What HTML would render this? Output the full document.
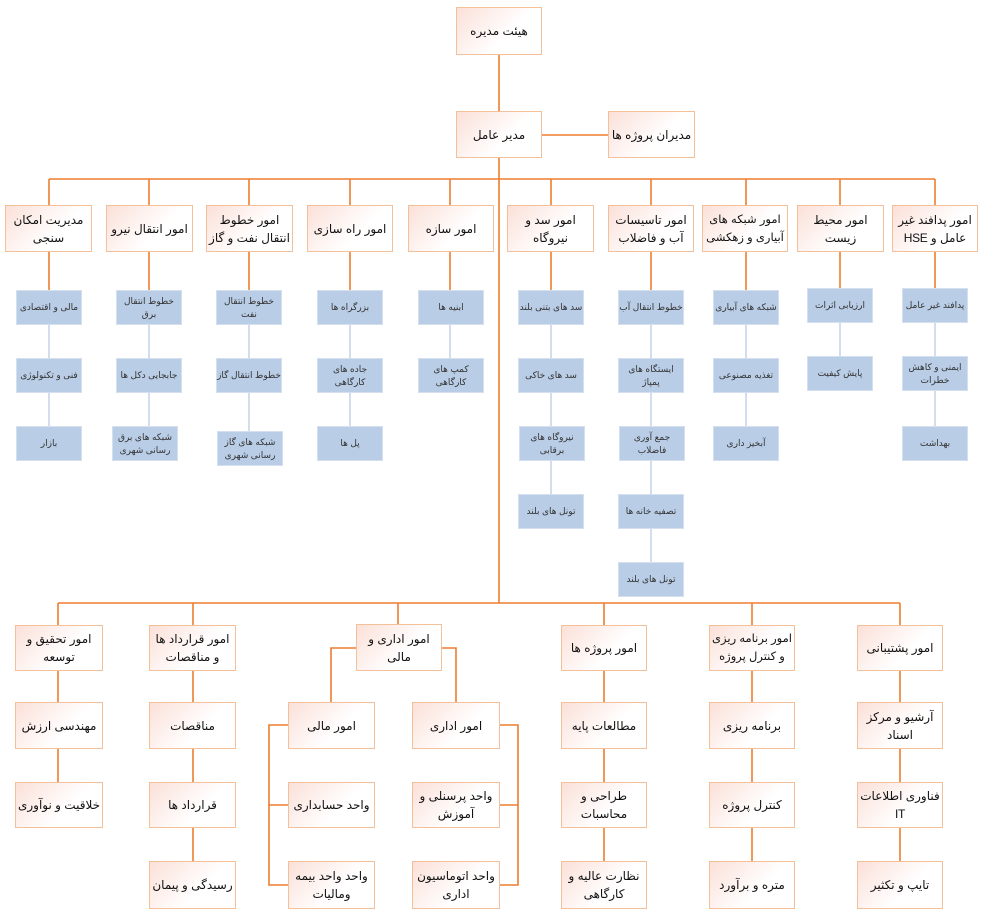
<!DOCTYPE html>
<html><head><meta charset="utf-8"><style>
body{margin:0;width:982px;height:918px;background:#fff;position:relative;overflow:hidden;font-family:"Liberation Sans","Noto Sans CJK SC","DejaVu Sans",sans-serif;}
svg{position:absolute;left:0;top:0}
.o{position:absolute;box-sizing:border-box;border:1px solid #f4c09a;background:linear-gradient(135deg,#fbe0d8 0%,#fff 60%,#fff 100%);display:flex;align-items:center;justify-content:center;text-align:center;direction:rtl;font-size:12px;line-height:18px;color:#111;letter-spacing:-0.3px;padding:0 1px;}
.b{position:absolute;box-sizing:border-box;border:1px solid #d5e0ee;background:#b9cde6;display:flex;align-items:center;justify-content:center;text-align:center;direction:rtl;font-size:9px;line-height:13px;color:#333;width:66px;height:35px;}
</style></head><body>
<svg width="982" height="918">
<g stroke="#ed7d31" stroke-width="1.6" fill="none">
<line x1="499" y1="55" x2="499" y2="603"/>
<line x1="542" y1="135" x2="608" y2="135"/>
<line x1="49" y1="179" x2="935" y2="179"/>
<line x1="49" y1="179" x2="49" y2="290"/><line x1="149" y1="179" x2="149" y2="290"/><line x1="249" y1="179" x2="249" y2="290"/><line x1="350" y1="179" x2="350" y2="290"/><line x1="450" y1="179" x2="450" y2="290"/><line x1="551" y1="179" x2="551" y2="290"/><line x1="651" y1="179" x2="651" y2="290"/><line x1="746" y1="179" x2="746" y2="290"/><line x1="840" y1="179" x2="840" y2="288"/><line x1="935" y1="179" x2="935" y2="288"/>
<line x1="58" y1="603" x2="900" y2="603"/>
<line x1="58" y1="603" x2="58" y2="782"/><line x1="193" y1="603" x2="193" y2="861"/><line x1="398" y1="603" x2="398" y2="625"/><line x1="604" y1="603" x2="604" y2="861"/><line x1="752" y1="603" x2="752" y2="861"/><line x1="900" y1="603" x2="900" y2="861"/>
<polyline points="356,648 331,648 331,702"/><polyline points="442,648 456,648 456,702"/>
<polyline points="288,725 269,725 269,885 288,885"/><line x1="269" y1="805" x2="288" y2="805"/>
<polyline points="500,725 518,725 518,885 500,885"/><line x1="518" y1="805" x2="500" y2="805"/>
</g>
<g stroke="#c6d6ea" stroke-width="1.6">
<line x1="49" y1="325" x2="49" y2="426"/><line x1="149" y1="325" x2="149" y2="426"/><line x1="249" y1="325" x2="249" y2="431"/><line x1="350" y1="325" x2="350" y2="426"/><line x1="450" y1="325" x2="450" y2="358"/><line x1="551" y1="325" x2="551" y2="494"/><line x1="651" y1="325" x2="651" y2="562"/><line x1="746" y1="325" x2="746" y2="426"/><line x1="840" y1="323" x2="840" y2="356"/><line x1="935" y1="323" x2="935" y2="426"/>
</g>
</svg>
<div class="o" style="left:456px;top:7px;width:86px;height:48px">هیئت مدیره</div>
<div class="o" style="left:456px;top:111px;width:86px;height:47px">مدیر عامل</div>
<div class="o" style="left:608px;top:111px;width:87px;height:47px">مدیران پروژه ها</div>

<div class="o" style="left:5px;top:205px;width:87px;height:47px">مدیریت امکان سنجی</div>
<div class="o" style="left:106px;top:205px;width:87px;height:47px">امور انتقال نیرو</div>
<div class="o" style="left:206px;top:205px;width:87px;height:47px">امور خطوط انتقال نفت و گاز</div>
<div class="o" style="left:307px;top:205px;width:86px;height:47px">امور راه سازی</div>
<div class="o" style="left:408px;top:205px;width:86px;height:47px">امور سازه</div>
<div class="o" style="left:507px;top:205px;width:87px;height:47px">امور سد و نیروگاه</div>
<div class="o" style="left:608px;top:205px;width:86px;height:47px">امور تاسیسات آب و فاضلاب</div>
<div class="o" style="left:702px;top:205px;width:86px;height:47px;font-size:11.5px">امور شبکه های آبیاری و زهکشی</div>
<div class="o" style="left:797px;top:205px;width:87px;height:47px">امور محیط زیست</div>
<div class="o" style="left:892px;top:205px;width:86px;height:47px">امور پدافند غیر عامل و HSE</div>

<div class="b" style="left:16px;top:290px">مالی و اقتصادی</div>
<div class="b" style="left:16px;top:358px">فنی و تکنولوژی</div>
<div class="b" style="left:16px;top:426px">بازار</div>
<div class="b" style="left:116px;top:290px">خطوط انتقال برق</div>
<div class="b" style="left:116px;top:358px">جابجایی دکل ها</div>
<div class="b" style="left:112px;top:426px">شبکه های برق رسانی شهری</div>
<div class="b" style="left:216px;top:290px">خطوط انتقال نفت</div>
<div class="b" style="left:216px;top:358px">خطوط انتقال گاز</div>
<div class="b" style="left:217px;top:431px">شبکه های گاز رسانی شهری</div>
<div class="b" style="left:317px;top:290px">بزرگراه ها</div>
<div class="b" style="left:317px;top:358px">جاده های کارگاهی</div>
<div class="b" style="left:317px;top:426px">پل ها</div>
<div class="b" style="left:418px;top:290px">ابنیه ها</div>
<div class="b" style="left:418px;top:358px">کمپ های کارگاهی</div>
<div class="b" style="left:518px;top:290px">سد های بتنی بلند</div>
<div class="b" style="left:518px;top:358px">سد های خاکی</div>
<div class="b" style="left:519px;top:426px">نیروگاه های برقابی</div>
<div class="b" style="left:518px;top:494px">تونل های بلند</div>
<div class="b" style="left:618px;top:290px">خطوط انتقال آب</div>
<div class="b" style="left:618px;top:358px">ایستگاه های پمپاژ</div>
<div class="b" style="left:619px;top:426px">جمع آوری فاضلاب</div>
<div class="b" style="left:618px;top:494px">تصفیه خانه ها</div>
<div class="b" style="left:618px;top:562px">تونل های بلند</div>
<div class="b" style="left:713px;top:290px">شبکه های آبیاری</div>
<div class="b" style="left:713px;top:358px">تغذیه مصنوعی</div>
<div class="b" style="left:713px;top:426px">آبخیز داری</div>
<div class="b" style="left:807px;top:288px">ارزیابی اثرات</div>
<div class="b" style="left:807px;top:356px">پایش کیفیت</div>
<div class="b" style="left:902px;top:288px">پدافند غیر عامل</div>
<div class="b" style="left:902px;top:356px">ایمنی و کاهش خطرات</div>
<div class="b" style="left:902px;top:426px">بهداشت</div>

<div class="o" style="left:15px;top:625px;width:88px;height:46px">امور تحقیق و توسعه</div>
<div class="o" style="left:149px;top:625px;width:87px;height:46px">امور قرارداد ها و مناقصات</div>
<div class="o" style="left:356px;top:624px;width:86px;height:47px">امور اداری و مالی</div>
<div class="o" style="left:561px;top:625px;width:86px;height:46px">امور پروژه ها</div>
<div class="o" style="left:709px;top:625px;width:86px;height:46px;font-size:11.5px">امور برنامه ریزی و کنترل پروژه</div>
<div class="o" style="left:857px;top:625px;width:86px;height:46px">امور پشتیبانی</div>

<div class="o" style="left:15px;top:702px;width:88px;height:47px">مهندسی ارزش</div>
<div class="o" style="left:15px;top:782px;width:88px;height:46px">خلاقیت و نوآوری</div>
<div class="o" style="left:149px;top:702px;width:87px;height:47px">مناقصات</div>
<div class="o" style="left:149px;top:782px;width:87px;height:46px">قرارداد ها</div>
<div class="o" style="left:149px;top:861px;width:87px;height:48px">رسیدگی و پیمان</div>
<div class="o" style="left:288px;top:702px;width:87px;height:47px">امور مالی</div>
<div class="o" style="left:288px;top:782px;width:87px;height:46px">واحد حسابداری</div>
<div class="o" style="left:288px;top:861px;width:87px;height:48px">واحد واحد بیمه ومالیات</div>
<div class="o" style="left:412px;top:702px;width:88px;height:47px">امور اداری</div>
<div class="o" style="left:412px;top:782px;width:88px;height:46px">واحد پرسنلی و آموزش</div>
<div class="o" style="left:412px;top:861px;width:88px;height:48px">واحد اتوماسیون اداری</div>
<div class="o" style="left:561px;top:702px;width:86px;height:47px">مطالعات پایه</div>
<div class="o" style="left:561px;top:782px;width:86px;height:46px">طراحی و محاسبات</div>
<div class="o" style="left:561px;top:861px;width:86px;height:48px">نظارت عالیه و کارگاهی</div>
<div class="o" style="left:709px;top:702px;width:86px;height:47px">برنامه ریزی</div>
<div class="o" style="left:709px;top:782px;width:86px;height:46px">کنترل پروژه</div>
<div class="o" style="left:709px;top:861px;width:86px;height:48px">متره و برآورد</div>
<div class="o" style="left:857px;top:702px;width:86px;height:47px">آرشیو و مرکز اسناد</div>
<div class="o" style="left:857px;top:782px;width:86px;height:46px">فناوری اطلاعات IT</div>
<div class="o" style="left:857px;top:861px;width:86px;height:48px">تایپ و تکثیر</div>
</body></html>
